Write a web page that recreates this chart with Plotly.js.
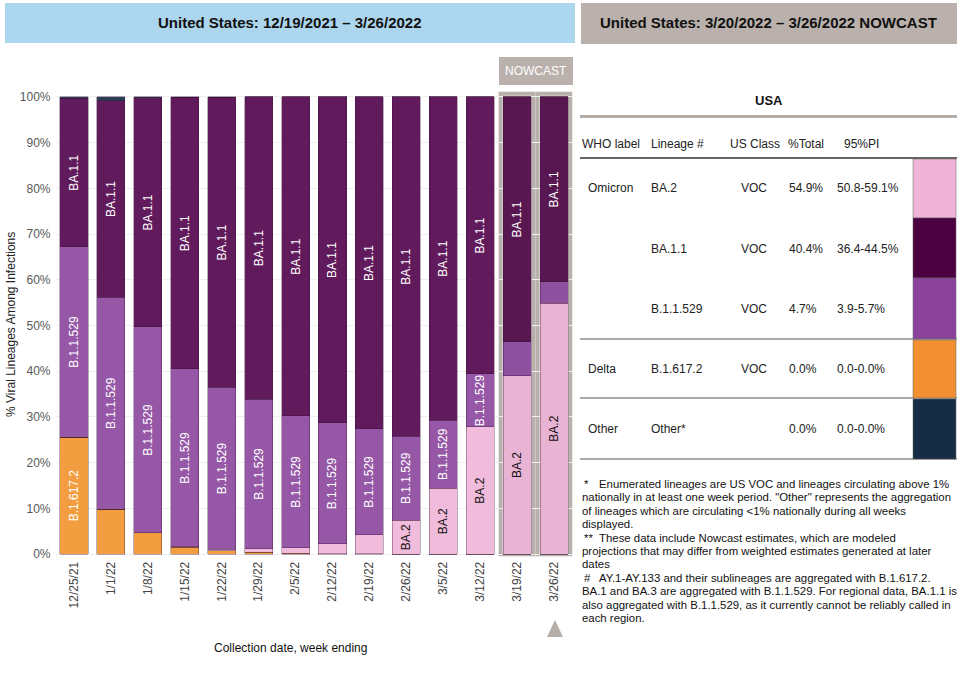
<!DOCTYPE html>
<html>
<head>
<meta charset="utf-8">
<script src="https://cdn.plot.ly/plotly-3.0.1.min.js"></script>
<style>html,body{margin:0;padding:0;background:#fff;}#chart{width:962px;height:673px;}</style>
</head>
<body>
<div id="chart"></div>
<script>
// ---------------- DATA ----------------
const weeks = ['12/25/21','1/1/22','1/8/22','1/15/22','1/22/22','1/29/22','2/5/22','2/12/22','2/19/22','2/26/22','3/5/22','3/12/22','3/19/22','3/26/22'];
const nowcastWeeks = ['3/19/22','3/26/22'];
const delta_B16172 = [25.6, 9.8, 4.6, 1.5, 0.7, 0.4, 0.2, 0.1, 0.1, 0.0, 0.0, 0.0, 0.0, 0.0];
const omicron_BA2  = [0.0, 0.0, 0.0, 0.1, 0.3, 0.8, 1.2, 2.1, 4.1, 7.4, 14.4, 27.8, 39.0, 54.9];
const omicron_B11529 = [41.6, 46.4, 45.1, 38.9, 35.5, 32.7, 28.8, 26.5, 23.2, 18.4, 14.9, 11.6, 7.4, 4.7];
const omicron_BA11 = [32.5, 43.0, 50.1, 59.4, 63.4, 66.1, 69.8, 71.3, 72.6, 74.2, 70.7, 60.6, 53.6, 40.4];
const other = [0.3, 0.8, 0.2, 0.1, 0.1, 0.0, 0.0, 0.0, 0.0, 0.0, 0.0, 0.0, 0.0, 0.0];
const yTicks = [0,10,20,30,40,50,60,70,80,90,100];

// Nowcast table
const tblWho = ['Omicron','','','Delta','Other'];
const tblLineage = ['BA.2','BA.1.1','B.1.1.529','B.1.617.2','Other*'];
const tblClass = ['VOC','VOC','VOC','VOC',''];
const tblPct = ['54.9%','40.4%','4.7%','0.0%','0.0%'];
const tblPI = ['50.8-59.1%','36.4-44.5%','3.9-5.7%','0.0-0.0%','0.0-0.0%'];
const tblHeaders = ['WHO label','Lineage #','US Class','%Total','95%PI'];

const footnotes = [
  ['*', 'Enumerated lineages are US VOC and lineages circulating above 1%'],
  ['', 'nationally in at least one week period. "Other" represents the aggregation'],
  ['', 'of lineages which are circulating <1% nationally during all weeks'],
  ['', 'displayed.'],
  ['**', 'These data include Nowcast estimates, which are modeled'],
  ['', 'projections that may differ from weighted estimates generated at later'],
  ['', 'dates'],
  ['#', 'AY.1-AY.133 and their sublineages are aggregated with B.1.617.2.'],
  ['', 'BA.1 and BA.3 are aggregated with B.1.1.529. For regional data, BA.1.1 is'],
  ['', 'also aggregated with B.1.1.529, as it currently cannot be reliably called in'],
  ['', 'each region.']
];

// ---------------- HELPERS ----------------
const W = 962, H = 673;
const px = x => x / W;
const py = y => 1 - y / H;
const FONT = 'Liberation Sans, Arial, Helvetica, sans-serif';
const pxPerPct = 4.57;
const isNow = weeks.map(w => nowcastWeeks.includes(w));

function labels(vals, name) {
  return vals.map(v => (v * pxPerPct >= name.length * 5.0 + 6) ? name : '');
}

function barTrace(vals, name, color, nowColor, textColor) {
  return {
    type: 'bar', x: weeks, y: vals, name: name,
    marker: { color: isNow.map(n => n ? nowColor : color), line: { color: 'rgba(45,10,45,0.55)', width: 0.6 } },
    text: labels(vals, name), textposition: 'inside', insidetextanchor: 'middle',
    textangle: -90, insidetextfont: { color: textColor, size: 12, family: FONT },
    hoverinfo: 'x+y+name', cliponaxis: false
  };
}

const traces = [
  barTrace(delta_B16172, 'B.1.617.2', '#f29d3f', '#f29d3f', '#ffffff'),
  barTrace(omicron_BA2, 'BA.2', '#f1bcdc', '#e9b4d4', '#111111'),
  barTrace(omicron_B11529, 'B.1.1.529', '#9557a6', '#8e51a0', '#ffffff'),
  barTrace(omicron_BA11, 'BA.1.1', '#611b5d', '#581751', '#ffffff'),
  barTrace(other, 'Other', '#2c3e55', '#2c3e55', '#ffffff')
];

const shapes = [];
const ann = [];

// Title boxes
shapes.push({type:'rect', xref:'paper', yref:'paper', x0:px(5), x1:px(575), y0:py(43), y1:py(3), fillcolor:'#acd5ee', line:{width:0}});
ann.push({xref:'paper', yref:'paper', x:px(290), y:py(23), text:'<b>United States: 12/19/2021 – 3/26/2022</b>', showarrow:false, font:{size:15, color:'#111', family:FONT}, xanchor:'center', yanchor:'middle'});
shapes.push({type:'rect', xref:'paper', yref:'paper', x0:px(581), x1:px(957), y0:py(44), y1:py(3), fillcolor:'#bab1ac', line:{width:0}});
ann.push({xref:'paper', yref:'paper', x:px(768), y:py(23), text:'<b>United States: 3/20/2022 – 3/26/2022 NOWCAST</b>', showarrow:false, font:{size:15, color:'#111', family:FONT}, xanchor:'center', yanchor:'middle'});

// Nowcast label box + frames
shapes.push({type:'rect', xref:'paper', yref:'paper', x0:px(499), x1:px(573), y0:py(85), y1:py(57), fillcolor:'#bab1ac', line:{width:0}});
ann.push({xref:'paper', yref:'paper', x:px(536), y:py(71), text:'NOWCAST', showarrow:false, font:{size:12, color:'#ffffff', family:FONT}, xanchor:'center', yanchor:'middle'});
weeks.forEach((w, i) => {
  if (isNow[i]) shapes.push({type:'rect', xref:'x', yref:'y', x0:i-0.445, x1:i+0.445, y0:-0.3, y1:100.7, line:{color:'#b8b0ab', width:4}, fillcolor:'rgba(0,0,0,0)', layer:'below'});
});
// triangle marker below latest week
shapes.push({type:'path', xref:'paper', yref:'paper',
  path:`M ${px(547)} ${py(637)} L ${px(563)} ${py(637)} L ${px(555)} ${py(620)} Z`,
  fillcolor:'#b5ada8', line:{width:0}});

// Axis titles
ann.push({xref:'paper', yref:'paper', x:px(11), y:py(325), text:'% Viral Lineages Among Infections', textangle:-90, showarrow:false, font:{size:12, color:'#222', family:FONT}, xanchor:'center', yanchor:'middle'});
ann.push({xref:'paper', yref:'paper', x:px(290), y:py(648), text:'Collection date, week ending', showarrow:false, font:{size:12, color:'#111', family:FONT}, xanchor:'center', yanchor:'middle'});

// Table
ann.push({xref:'paper', yref:'paper', x:px(769), y:py(100), text:'<b>USA</b>', showarrow:false, font:{size:13, color:'#111', family:FONT}, xanchor:'center', yanchor:'middle'});
shapes.push({type:'rect', xref:'paper', yref:'paper', x0:px(580), x1:px(957), y0:py(118), y1:py(115), fillcolor:'#b3aca7', line:{width:0}});
const hdrX = [580, 649, 728, 786, 842];
tblHeaders.forEach((h, j) => ann.push({xref:'paper', yref:'paper', x:px(hdrX[j]), y:py(144), text:h, showarrow:false, font:{size:12, color:'#222', family:FONT}, xanchor:'left', yanchor:'middle'}));
shapes.push({type:'line', xref:'paper', yref:'paper', x0:px(580), x1:px(957), y0:py(158), y1:py(158), line:{color:'#333', width:1.5}});
const rowY = [188, 249, 309, 369, 429];
const swatchTop = [159, 218, 278, 340, 399];
const swatchBot = [218, 278, 339, 398, 459];
const swatchCol = ['#f0b4d8', '#4b0042', '#8a429a', '#f28f30', '#162c45'];
[339, 398, 459].forEach(y => shapes.push({type:'line', xref:'paper', yref:'paper', x0:px(580), x1:px(957), y0:py(y), y1:py(y), line:{color:'#555', width:1.2}}));
rowY.forEach((y, r) => {
  const f = {size:12, color:'#222', family:FONT};
  if (tblWho[r]) ann.push({xref:'paper', yref:'paper', x:px(586), y:py(y), text:tblWho[r], showarrow:false, font:f, xanchor:'left', yanchor:'middle'});
  ann.push({xref:'paper', yref:'paper', x:px(649), y:py(y), text:tblLineage[r], showarrow:false, font:f, xanchor:'left', yanchor:'middle'});
  if (tblClass[r]) ann.push({xref:'paper', yref:'paper', x:px(769), y:py(y), text:tblClass[r], showarrow:false, font:f, xanchor:'right', yanchor:'middle'});
  ann.push({xref:'paper', yref:'paper', x:px(787), y:py(y), text:tblPct[r], showarrow:false, font:f, xanchor:'left', yanchor:'middle'});
  ann.push({xref:'paper', yref:'paper', x:px(835), y:py(y), text:tblPI[r], showarrow:false, font:f, xanchor:'left', yanchor:'middle'});
  shapes.push({type:'rect', xref:'paper', yref:'paper', x0:px(913), x1:px(956), y0:py(swatchBot[r]), y1:py(swatchTop[r]), fillcolor:swatchCol[r], line:{color:'#666', width:0.5}});
});

// Footnotes
footnotes.forEach((fn, k) => {
  const y = 484 + k * 13.4;
  const f = {size:11.4, color:'#111', family:FONT};
  if (fn[0]) {
    ann.push({xref:'paper', yref:'paper', x:px(582), y:py(y), text:fn[0], showarrow:false, font:f, xanchor:'left', yanchor:'middle'});
    ann.push({xref:'paper', yref:'paper', x:px(597), y:py(y), text:fn[1], showarrow:false, font:f, xanchor:'left', yanchor:'middle'});
  } else {
    ann.push({xref:'paper', yref:'paper', x:px(580), y:py(y), text:fn[1], showarrow:false, font:f, xanchor:'left', yanchor:'middle'});
  }
});

const layout = {
  width: W, height: H,
  margin: {l:0, r:0, t:0, b:0, pad:0},
  paper_bgcolor: '#ffffff', plot_bgcolor: '#ffffff',
  barmode: 'stack', bargap: 0.24,
  showlegend: false,
  uniformtext: {mode: 'show', minsize: 12},
  font: {family: FONT, size: 12, color: '#444'},
  xaxis: {
    domain: [px(55.5), px(572.5)],
    type: 'category', range: [-0.5, weeks.length - 0.5],
    tickangle: -90, tickfont: {size: 12, color: '#444', family: FONT},
    showgrid: false, zeroline: false, showline: false, ticks: '', ticklabelstandoff: 2
  },
  yaxis: {
    domain: [1 - 556.3 / H, 1 - 90.1 / H],
    range: [-0.5, 101.5],
    tickvals: yTicks, ticktext: yTicks.map(v => v + '%'),
    tickfont: {size: 12, color: '#595959', family: FONT},
    showgrid: true, gridcolor: '#efefef', gridwidth: 1,
    zeroline: false, showline: false, ticks: '', ticklabelstandoff: 4
  },
  shapes: shapes,
  annotations: ann
};

Plotly.newPlot('chart', traces, layout, {displayModeBar: false, staticPlot: true});
</script>
</body>
</html>
